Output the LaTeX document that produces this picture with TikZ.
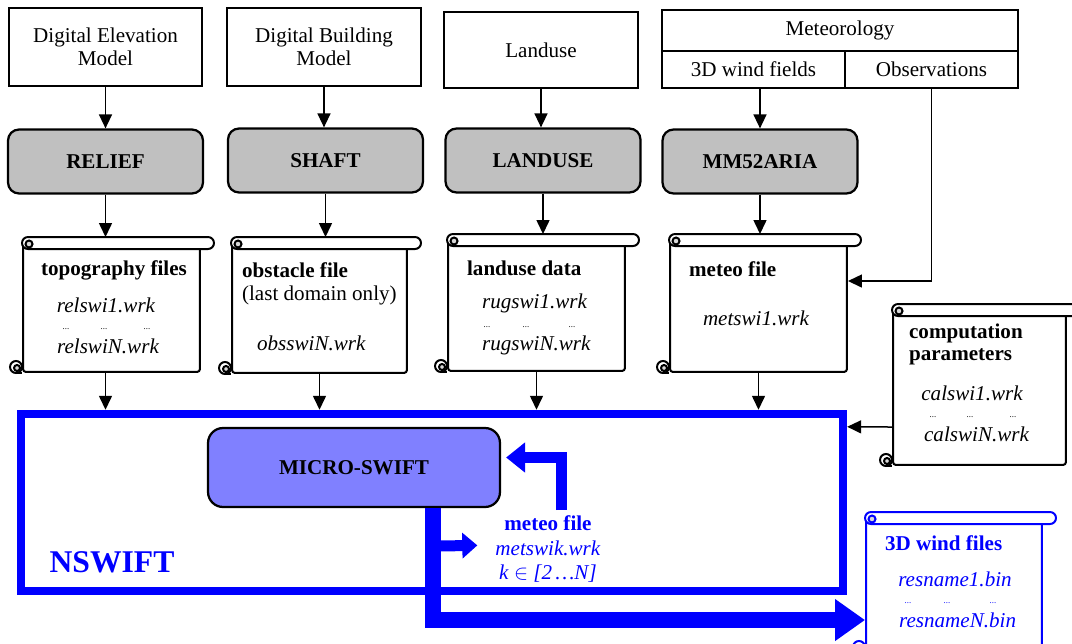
\documentclass[tikz,border=0pt]{standalone}
\usepackage{fontspec}
\setmainfont{Liberation Serif}
\usetikzlibrary{calc,arrows.meta}
\definecolor{swblue}{RGB}{0,0,255}
\definecolor{swgray}{RGB}{192,192,192}
\definecolor{swlight}{RGB}{128,128,255}
\newcommand{\fs}{\fontsize{12}{13.9}\selectfont}
\newcommand{\scrolldeco}[2]{%
  \draw[scroll line,#2,fill=white,rounded corners=0.12cm]
    (#1.north west) rectangle ($(#1.north east)+(13,12)$);
  \filldraw[scroll line,#2,fill=swgray!60] ($(#1.north west)+(7,7)$) circle (0.07cm);
  \draw[scroll line,#2] ($(#1.south west)+(-6,0)$) -- (#1.south west);
  \draw[scroll line,#2,fill=white] ($(#1.south west)+(-6,-6)$) circle (0.12cm);
  \filldraw[scroll line,#2,fill=swgray!60] ($(#1.south west)+(-5,-5)$) circle (0.06cm);
}
\tikzset{
  srcbox/.style={draw, line width=0.045cm, font=\fontsize{12}{13}\selectfont, align=center, inner sep=0pt},
  progbox/.style={draw, fill=swgray, rounded corners=0.22cm, line width=0.045cm, font=\fs\bfseries,
    minimum width=3.9cm, minimum height=1.28cm, inner sep=0pt},
  scroll line/.style={line width=0.04cm},
  scrollbody/.style={draw, fill=white, scroll line, rounded corners=0.06cm, inner sep=0pt},
  head/.style={font=\fs\bfseries, inner sep=1pt},
  fname/.style={font=\fs\itshape, inner sep=1pt},
  dots/.style={font=\fontsize{5}{5}\selectfont, inner sep=0pt},
  arr/.style={line width=0.03cm, -{Triangle[length=0.28cm,width=0.26cm]}},
  feedarrow/.style={draw=swblue, line width=0.22cm, -{Triangle[length=0.38cm,width=0.58cm]}},
  outarrow/.style={draw=swblue, line width=0.32cm, -{Triangle[length=0.6cm,width=0.8cm]}},
  brancharrow/.style={draw=swblue, line width=0.22cm, -{Triangle[length=0.3cm,width=0.5cm]}}
}
\begin{document}
\begin{tikzpicture}[x=0.02cm, y=-0.02cm]
  \useasboundingbox (0,0) rectangle (1072,643);
  % input data
  \node[srcbox, minimum width=3.86cm, minimum height=1.56cm] (dem) at (105.5,47) {Digital Elevation\\Model};
  \node[srcbox, minimum width=3.88cm, minimum height=1.56cm] (dbm) at (324,47) {Digital Building\\Model};
  \node[srcbox, minimum width=3.88cm, minimum height=1.52cm] (lus) at (541,50) {Landuse};
  \node[srcbox, minimum width=7.12cm, minimum height=0.82cm] (meteo) at (840,30.5) {\raisebox{-3pt}{Meteorology}};
  \node[srcbox, minimum width=3.66cm, minimum height=0.74cm] (wind) at (753.5,69.5) {3D wind fields};
  \node[srcbox, minimum width=3.46cm, minimum height=0.74cm] (obs) at (931.5,69.5) {Observations};
  % preprocessors
  \node[progbox] (relief) at (105.5,161.5) {RELIEF};
  \node[progbox] (shaft) at (325.5,160.5) {SHAFT};
  \node[progbox] (landu) at (543,160.5) {LANDUSE};
  \node[progbox] (mm5) at (760,161.5) {MM52ARIA};
  % files
  \node[scrollbody, minimum width=3.54cm, minimum height=2.68cm] (topo) at (111.5,305) {};
  \node[scrollbody, minimum width=3.5cm, minimum height=2.7cm] (obst) at (319.5,305.5) {};
  \node[scrollbody, minimum width=3.54cm, minimum height=2.72cm] (land) at (536.5,303) {};
  \node[scrollbody, minimum width=3.54cm, minimum height=2.74cm] (metf) at (758.5,303.5) {};
  \node[scrollbody, minimum width=3.46cm, minimum height=3.2cm] (calc) at (979.5,385) {};
  \node[scrollbody, draw=swblue, minimum width=3.52cm, minimum height=2.78cm] (windf) at (954,582.5) {};
  \scrolldeco{topo}{black}
  \scrolldeco{obst}{black}
  \scrolldeco{land}{black}
  \scrolldeco{metf}{black}
  \scrolldeco{calc}{black}
  \scrolldeco{windf}{swblue}
  \node[head] (topo-h) at (114,270) {topography files};
  \node[fname] (topo-1) at (106,305) {relswi1.wrk};
  \foreach \x [count=\i] in {66,104,147} \node[dots] (topo-d\i) at (\x,329) {...};
  \node[fname] (topo-n) at (108,346) {relswiN.wrk};
  \node[head, anchor=west] (obst-h) at (240,270) {obstacle file};
  \node[font=\fs, inner sep=1pt, anchor=west] (obst-t) at (240,295) {(last domain only)};
  \node[fname, anchor=west] (obst-n) at (255,343) {obsswiN.wrk};
  \node[head, anchor=west] (land-h) at (465,268) {landuse data};
  \node[fname, anchor=west] (land-1) at (480,303) {rugswi1.wrk};
  \foreach \x [count=\i] in {487,526,572} \node[dots] (land-d\i) at (\x,327) {...};
  \node[fname, anchor=west] (land-n) at (480,345) {rugswiN.wrk};
  \node[head, anchor=west] (metf-h) at (687,269) {meteo file};
  \node[fname] (metf-1) at (756,318) {metswi1.wrk};
  \node[head, anchor=west] (calc-h1) at (907,333) {computation};
  \node[head, anchor=west] (calc-h2) at (907,357) {parameters};
  \node[fname] (calc-1) at (972,393) {calswi1.wrk};
  \foreach \x [count=\i] in {933,970,1013} \node[dots] (calc-d\i) at (\x,417) {...};
  \node[fname, anchor=west] (calc-n) at (922,434) {calswiN.wrk};
  \node[head, text=swblue, anchor=west] (windf-h) at (883,543) {3D wind files};
  \node[fname, text=swblue] (windf-1) at (955,579) {resname1.bin};
  \foreach \x [count=\i] in {908,947,993} \node[dots, text=swblue] (windf-d\i) at (\x,603) {...};
  \node[fname, text=swblue, anchor=west] (windf-n) at (897,620) {resnameN.bin};
  % solver
  \node[draw=swblue, line width=0.17cm, minimum width=16.44cm, minimum height=3.54cm] (nswift) at (432,502.5) {};
  \node[font=\fontsize{18}{20}\selectfont\bfseries, text=swblue] (nswift-l) at (112,562) {NSWIFT};
  \node[draw, fill=swlight, rounded corners=0.3cm, line width=0.045cm, font=\fs\bfseries,
    minimum width=5.84cm, minimum height=1.58cm] (micro) at (354,467.5) {MICRO-SWIFT};
  \node[text=swblue, font=\fs, align=center, anchor=north, inner sep=1pt] (metk) at (548,514)
    {\textbf{meteo file}\\\textit{metswik.wrk}\\\textit{k} $\in$ \textit{[2\,…N]}};
  % connectors
  \draw[arr] (dem) -- (relief);
  \draw[arr] (dbm.south) -- (dbm.south |- shaft.north);
  \draw[arr] (lus.south) -- (lus.south |- landu.north);
  \draw[arr] (mm5.north |- wind.south) -- (mm5.north);
  \draw[arr] (relief.south) -- (relief.south |- topo.north);
  \draw[arr] (shaft.south) -- (shaft.south |- obst.north);
  \draw[arr] (landu.south) -- (landu.south |- land.north);
  \draw[arr] (mm5.south) -- (mm5.south |- metf.north);
  \draw[arr] (obs.south) |- ($(metf.north east)+(0,47)$);
  \draw[arr] (topo.south -| relief) -- (relief |- nswift.north);
  \draw[arr] (obst.south) -- (obst.south |- nswift.north);
  \draw[arr] (land.south) -- (land.south |- nswift.north);
  \draw[arr] (metf.south) -- (metf.south |- nswift.north);
  \draw[arr] ($(calc.north west)+(0,123)$) -- ($(nswift.north east)+(0,17)$);
  \draw[feedarrow] ($(metk.north)+(13,-4)$) |- ($(micro.east)+(5,-10)$);
  \draw[outarrow] ($(micro.south)+(79,0)$) |- ($(windf.north west)+(0,108)$);
  \draw[brancharrow] ($(micro.south)+(79,38)$) -- ($(metk.west)+(-16,-4)$);
\end{tikzpicture}
\end{document}
